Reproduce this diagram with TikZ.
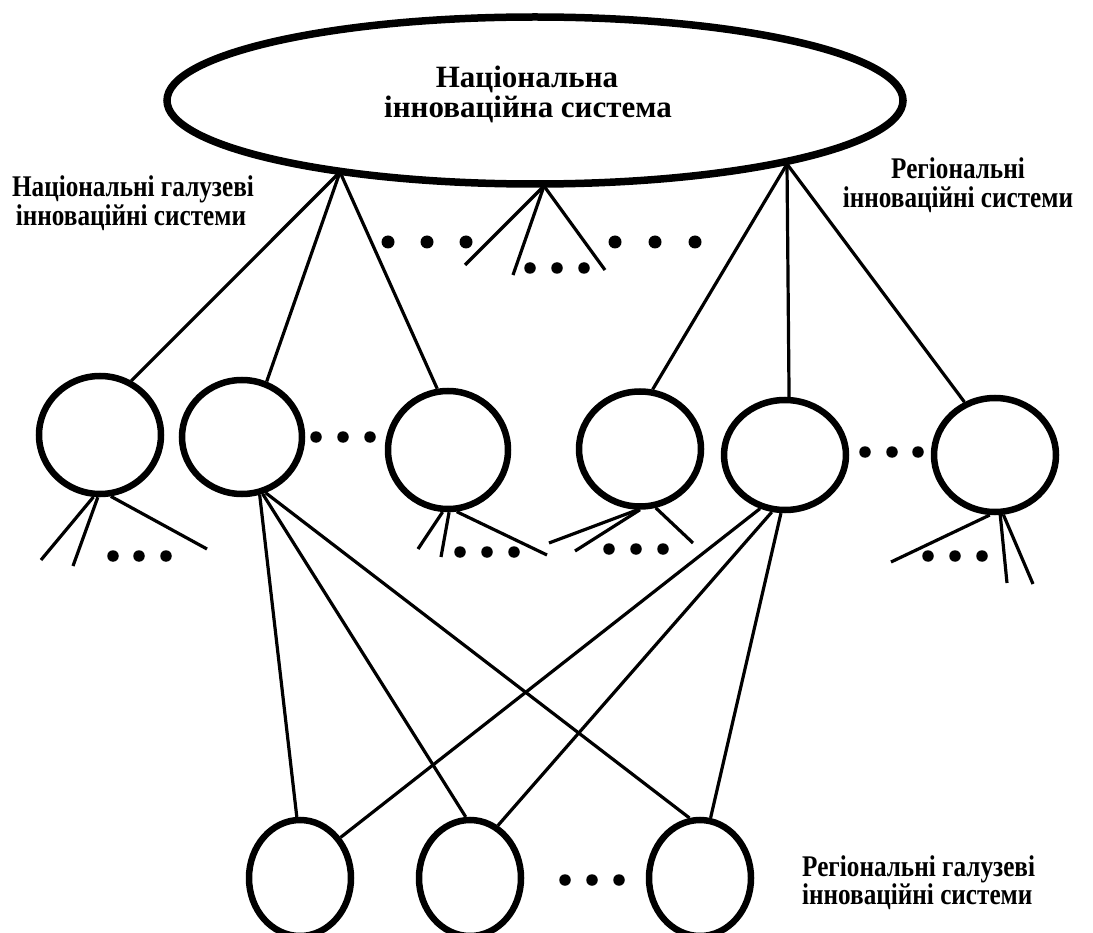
\documentclass[tikz,border=0pt]{standalone}
\usepackage{fontspec}
\setmainfont{Liberation Serif}
\newfontfamily\condfont[FakeStretch=0.84]{Liberation Serif}
\usetikzlibrary{shapes.geometric}
\tikzset{
  circ/.style={ellipse, draw, line width=6.5pt, inner sep=0pt, minimum width=122pt, minimum height=116pt},
  bcirc/.style={ellipse, draw, line width=6.5pt, inner sep=0pt, minimum width=102pt, minimum height=116pt},
  bigdot/.style={circle, fill, inner sep=0pt, minimum size=13pt},
  dot/.style={circle, fill, inner sep=0pt, minimum size=11.5pt},
  conn/.style={line width=3.2pt},
  maintext/.style={font=\fontsize{31}{32}\selectfont\bfseries, anchor=base, inner sep=0pt},
  sidetext/.style={font=\condfont\fontsize{30}{31}\selectfont\bfseries, anchor=base, inner sep=0pt},
}
\begin{document}
\begin{tikzpicture}[x=1pt, y=-1pt]
\useasboundingbox (0,0) rectangle (1093,933);
% national system
\node[ellipse, draw, line width=7.5pt, inner sep=0pt, minimum width=736pt, minimum height=167pt] (N) at (535,100.5) {};
\node[maintext] (Na) at (527,88) {Національна};
\node[maintext] (Nb) at (528,118) {інноваційна система};
% labels
\node[sidetext] (La) at (133,197) {Національні галузеві};
\node[sidetext] (Lb) at (131,226) {інноваційні системи};
\node[sidetext] (Ra) at (958,179) {Регіональні};
\node[sidetext] (Rb) at (958,208) {інноваційні системи};
\node[sidetext, anchor=base west] (Ba) at (802,876) {Регіональні галузеві};
\node[sidetext, anchor=base west] (Bb) at (802,904) {інноваційні системи};
% middle row
\node[circ, minimum height=118pt] (C1) at (100,435) {};
\node[circ, minimum width=120pt, minimum height=114pt] (C2) at (242,437) {};
\node[circ, minimum width=120pt, minimum height=118pt] (C3) at (448,450) {};
\node[circ, minimum height=115pt] (C4) at (640,449) {};
\node[circ, minimum height=110pt] (C5) at (785,455) {};
\node[circ, minimum height=114pt] (C6) at (995,455) {};
% bottom row
\node[bcirc] (B1) at (300,878) {};
\node[bcirc] (B2) at (470,878) {};
\node[bcirc] (B3) at (700,878) {};
% fan vertices on the big ellipse
\coordinate (fL) at (340,172);
\coordinate (fM) at (544,186);
\coordinate (fR) at (787,164);
\draw[conn] (fL) -- (C1.60);
\draw[conn] (fL) -- (C2.66);
\draw[conn] (fL) -- (C3.100);
\draw[conn] (fR) -- (C4.78);
\draw[conn] (fR) -- (C5.86);
\draw[conn] (fR) -- (C6.120);
\coordinate (m1) at (465,265);
\coordinate (m2) at (513,275);
\coordinate (m3) at (605,270);
\draw[conn] (fM) -- (m1);
\draw[conn] (fM) -- (m2);
\draw[conn] (fM) -- (m3);
% sub-fans
\coordinate (a1) at (41,560);
\coordinate (a2) at (73,566);
\coordinate (a3) at (207,549);
\draw[conn] (C1.-96) -- (a1);
\draw[conn] (C1.-92) -- (a2);
\draw[conn] (C1.-80) -- (a3);
\coordinate (c1) at (418,549);
\coordinate (c2) at (441,557);
\coordinate (c3) at (547,555);
\draw[conn] (C3.-95) -- (c1);
\draw[conn] (C3.-89) -- (c2);
\draw[conn] (C3.-82) -- (c3);
\coordinate (e1) at (549,543);
\coordinate (e2) at (575,551);
\coordinate (e3) at (693,543);
\draw[conn] (C4.-92) -- (e1);
\draw[conn] (C4.-90) -- (e2);
\draw[conn] (C4.-75) -- (e3);
\coordinate (g1) at (891,562);
\coordinate (g2) at (1007,583);
\coordinate (g3) at (1033,584);
\draw[conn] (C6.-95) -- (g1);
\draw[conn] (C6.-85) -- (g2);
\draw[conn] (C6.-82) -- (g3);
% cross connections
\draw[conn] (C2.-73) -- (B1.93);
\draw[conn] (C2.-70) -- (B2.94);
\draw[conn] (C2.-67) -- (B3.100);
\draw[conn] (C5.-115) -- (B1.45);
\draw[conn] (C5.-103) -- (B2.62);
\draw[conn] (C5.-94) -- (B3.80);
% dots
\foreach \n/\x/\y in {u1/388/242, u2/427/242, u3/466/242, u4/615/242, u5/655/242, u6/695/242}
  \node[bigdot] (\n) at (\x,\y) {};
\foreach \n/\x/\y in {v1/530/268, v2/557/268, v3/584/268,
    h1/316/437, h2/343/437, h3/370/437, h4/865/452, h5/892/452, h6/918/452,
    s1/113/556, s2/139/556, s3/166/556, s4/460/552, s5/487/552, s6/514/552,
    s7/609/549, s8/636/549, s9/663/549, s10/928/556, s11/955/556, s12/982/556,
    b1/565/880, b2/592/880, b3/619/880}
  \node[dot] (\n) at (\x,\y) {};
\end{tikzpicture}
\end{document}
